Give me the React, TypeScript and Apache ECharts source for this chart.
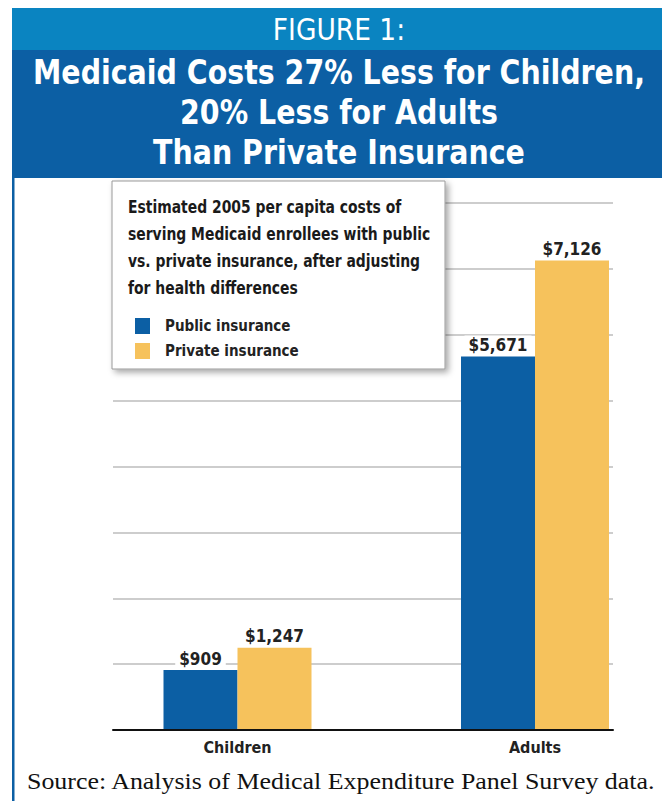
import React, { useEffect, useRef } from "react";
import * as echarts from "echarts";

const categories = ["Children", "Adults"];
const seriesNames = ["Public insurance", "Private insurance"];
const publicValues = [909, 5671];
const privateValues = [1247, 7126];
const yTicks = [0, 1000, 2000, 3000, 4000, 5000, 6000, 7000, 8000];
const headerLabel = "FIGURE 1:";
const titleLines = [
  "Medicaid Costs 27% Less for Children,",
  "20% Less for Adults",
  "Than Private Insurance",
];
const boxTitleLines = [
  "Estimated 2005 per capita costs of",
  "serving Medicaid enrollees with public",
  "vs. private insurance, after adjusting",
  "for health differences",
];
const sourceText = "Source: Analysis of Medical Expenditure Panel Survey data.";

const COND = "'DejaVu Sans Condensed', 'Liberation Sans Narrow', sans-serif";
const BLUE = "#0c5fa4";
const LIGHT_BLUE = "#0a84c1";
const YELLOW = "#f6c25c";

export default function App() {
  const ref = useRef<HTMLDivElement>(null);
  useEffect(() => {
    if (!ref.current) return;
    const chart = echarts.init(ref.current, undefined, { renderer: "svg" });
    const yMin = yTicks[0];
    const yMax = yTicks[yTicks.length - 1];
    const yInterval = yTicks[1] - yTicks[0];
    const labelCfg = {
      show: true,
      position: "top",
      distance: 3,
      formatter: (p: any) => "$" + Number(p.value).toLocaleString("en-US"),
      fontFamily: COND,
      fontWeight: "bold",
      fontSize: 17,
      color: "#222",
      backgroundColor: "#fff",
      padding: [1, 4, 0, 4],
    };
    chart.setOption({
      animation: false,
      backgroundColor: "#fff",
      legend: {
        data: seriesNames,
        orient: "vertical",
        left: 135,
        top: 318,
        itemWidth: 15,
        itemHeight: 16,
        itemGap: 9,
        icon: "rect",
        z: 10,
        padding: 0,
        textStyle: {
          fontFamily: COND,
          fontWeight: "bold",
          fontSize: 15,
          color: "#222",
          padding: [0, 0, 0, 10],
        },
      },
      grid: [
        { left: 237.5, right: 127, top: 203, bottom: 71 },
        { left: 113, right: 49, top: 203, bottom: 71 },
      ],
      xAxis: [
        {
          type: "category",
          gridIndex: 0,
          data: categories,
          boundaryGap: false,
          axisLine: { show: false },
          axisTick: { show: false },
          splitLine: { show: false },
          axisLabel: {
            margin: 9,
            fontFamily: COND,
            fontWeight: "bold",
            fontSize: 16,
            color: "#222",
          },
        },
        {
          type: "category",
          gridIndex: 1,
          data: categories,
          z: 5,
          axisLine: { show: true, lineStyle: { color: "#111", width: 2 } },
          axisTick: { show: false },
          axisLabel: { show: false },
        },
      ],
      yAxis: [
        {
          type: "value",
          gridIndex: 0,
          min: yMin,
          max: yMax,
          interval: yInterval,
          show: false,
          splitLine: { show: false },
        },
        {
          type: "value",
          gridIndex: 1,
          min: yMin,
          max: yMax,
          interval: yInterval,
          axisLine: { show: false },
          axisTick: { show: false },
          axisLabel: { show: false },
          splitLine: { show: true, lineStyle: { color: "#bcbcbc", width: 1.5 } },
        },
      ],
      series: [
        {
          name: seriesNames[0],
          type: "bar",
          xAxisIndex: 0,
          yAxisIndex: 0,
          data: publicValues,
          barWidth: 74,
          barGap: "0%",
          clip: false,
          itemStyle: { color: BLUE },
          label: labelCfg,
          z: 3,
        },
        {
          name: seriesNames[1],
          type: "bar",
          xAxisIndex: 0,
          yAxisIndex: 0,
          data: privateValues,
          barWidth: 74,
          barGap: "0%",
          clip: false,
          itemStyle: { color: YELLOW },
          label: labelCfg,
          z: 3,
        },
      ],
      graphic: [
        { type: "rect", shape: { x: 12, y: 8, width: 650, height: 42 }, style: { fill: LIGHT_BLUE }, z: 1 },
        { type: "rect", shape: { x: 12, y: 50, width: 650, height: 128 }, style: { fill: BLUE }, z: 1 },
        { type: "rect", shape: { x: 12, y: 178, width: 2.5, height: 623 }, style: { fill: BLUE }, z: 1 },
        {
          type: "text",
          x: 339,
          y: 29,
          z: 2,
          scaleX: 0.95,
          style: {
            text: headerLabel,
            fill: "#fff",
            font: "31px " + COND,
            textAlign: "center",
            textVerticalAlign: "middle",
          },
        },
        ...titleLines.map((t, i) => ({
          type: "text",
          x: 339,
          y: 73 + i * 40,
          z: 2,
          scaleX: 0.93,
          style: {
            text: t,
            fill: "#fff",
            font: "bold 34px " + COND,
            textAlign: "center",
            textVerticalAlign: "middle",
          },
        })),
        {
          type: "rect",
          shape: { x: 112, y: 181, width: 333, height: 188 },
          style: {
            fill: "#fff",
            stroke: "#9a9a9a",
            lineWidth: 1,
            shadowBlur: 6,
            shadowOffsetX: 3,
            shadowOffsetY: 3,
            shadowColor: "rgba(0,0,0,0.35)",
          },
          z: 6,
        },
        ...boxTitleLines.map((t, i) => ({
          type: "text",
          x: 128,
          y: 207 + i * 27,
          z: 8,
          scaleX: 0.86,
          style: {
            text: t,
            fill: "#1a1a1a",
            font: "bold 18px " + COND,
            textAlign: "left",
            textVerticalAlign: "middle",
          },
        })),
        {
          type: "text",
          x: 27,
          y: 781,
          z: 2,
          scaleX: 1.08,
          style: {
            text: sourceText,
            fill: "#111",
            font: "24px 'Liberation Serif', 'DejaVu Serif', serif",
            textAlign: "left",
            textVerticalAlign: "middle",
          },
        },
      ],
    });
    return () => chart.dispose();
  }, []);
  return (
    <div
      ref={ref}
      style={{ position: "absolute", left: 0, top: 0, width: 662, height: 801 }}
    />
  );
}
